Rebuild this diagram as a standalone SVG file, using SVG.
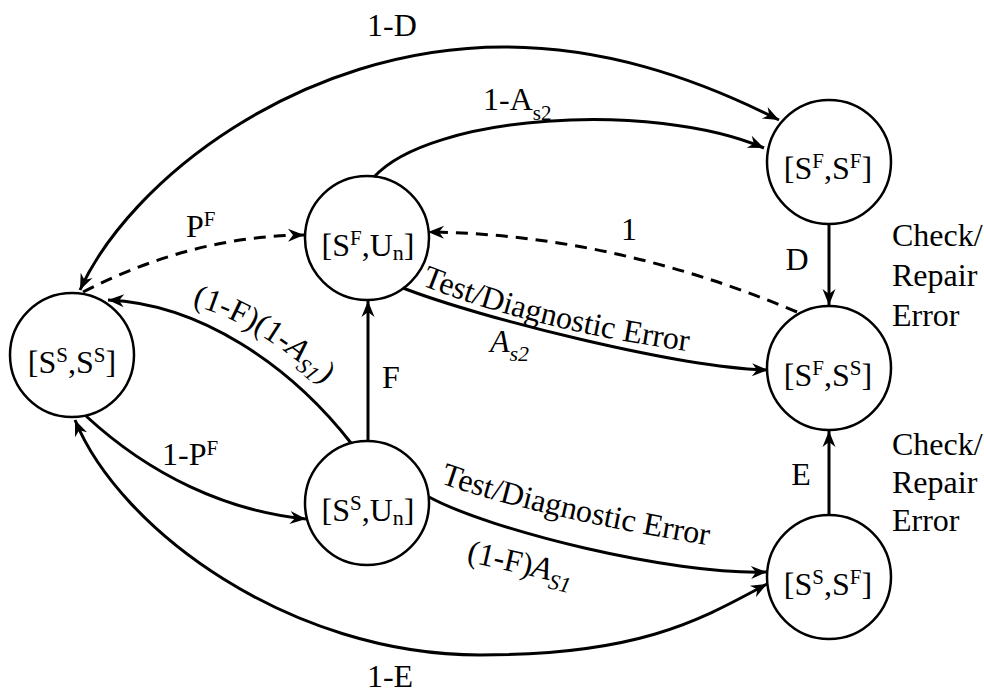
<svg xmlns="http://www.w3.org/2000/svg" width="984" height="695" viewBox="0 0 984 695" font-family="'Liberation Serif', 'Times New Roman', serif">
  <style>
    text { font-family: "Liberation Serif", "Times New Roman", serif; font-size: 32px; fill: #000; }
    .state circle { fill: #fff; stroke: #000; stroke-width: 2.5; }
    .state text { text-anchor: middle; }
    .edge { fill: none; stroke: #000; stroke-width: 3; }
    .dash { stroke-dasharray: 12 8; }
    .sup { font-size: 21px; }
    .sub { font-size: 22px; }
    .it { font-style: italic; }
    .mid { text-anchor: middle; }
  </style>
  <defs>
    <marker id="arrow" viewBox="-17 -8 18 16" markerWidth="18" markerHeight="16" refX="0" refY="0" orient="auto-start-reverse" markerUnits="userSpaceOnUse">
      <path d="M0,0 L-16,-6.5 L-11,0 L-16,6.5 Z" fill="#000"/>
    </marker>
    <!-- baselines for the labels that follow curved edges -->
    <path id="tde-upper" d="M421,285 Q540,332 702,353"/>
    <path id="tde-lower" d="M440,483 Q540,518 730,549"/>
    <path id="f-as1" d="M192,305 Q263,325 331,391"/>
  </defs>

  <!-- states -->
  <g id="s-ss-ss" class="state">
    <circle cx="72" cy="355" r="62"/>
    <text x="72" y="373">[S<tspan class="sup" dy="-11">S</tspan><tspan dy="11">,S</tspan><tspan class="sup" dy="-11">S</tspan><tspan dy="11">]</tspan></text>
  </g>
  <g id="s-sf-un" class="state">
    <circle cx="367" cy="238" r="62"/>
    <text x="368" y="256">[S<tspan class="sup" dy="-11">F</tspan><tspan dy="11">,U</tspan><tspan class="sub" dy="4">n</tspan><tspan dy="-4">]</tspan></text>
  </g>
  <g id="s-ss-un" class="state">
    <circle cx="367" cy="503" r="62"/>
    <text x="368" y="521">[S<tspan class="sup" dy="-11">S</tspan><tspan dy="11">,U</tspan><tspan class="sub" dy="4">n</tspan><tspan dy="-4">]</tspan></text>
  </g>
  <g id="s-sf-sf" class="state">
    <circle cx="829" cy="162" r="62"/>
    <text x="828" y="179">[S<tspan class="sup" dy="-11">F</tspan><tspan dy="11">,S</tspan><tspan class="sup" dy="-11">F</tspan><tspan dy="11">]</tspan></text>
  </g>
  <g id="s-sf-ss" class="state">
    <circle cx="829" cy="368" r="62"/>
    <text x="828" y="386">[S<tspan class="sup" dy="-11">F</tspan><tspan dy="11">,S</tspan><tspan class="sup" dy="-11">S</tspan><tspan dy="11">]</tspan></text>
  </g>
  <g id="s-ss-sf" class="state">
    <circle cx="829" cy="577" r="62"/>
    <text x="828" y="595">[S<tspan class="sup" dy="-11">S</tspan><tspan dy="11">,S</tspan><tspan class="sup" dy="-11">F</tspan><tspan dy="11">]</tspan></text>
  </g>

  <!-- transitions -->
  <g id="edges">
    <path class="edge" d="M80,290 C130,180 300,47 504,47 C600,47 690,75 779,120" marker-start="url(#arrow)" marker-end="url(#arrow)"/>
    <path class="edge" d="M374,177 C430,115 650,100 764,148" marker-end="url(#arrow)"/>
    <path class="edge dash" d="M83,292 Q192,236 304,235" marker-end="url(#arrow)"/>
    <path class="edge dash" d="M797,312 Q612,234 428,232" marker-end="url(#arrow)"/>
    <path class="edge" d="M351,443 C290,365 200,304 108,300" marker-end="url(#arrow)"/>
    <path class="edge" d="M86,416 C150,475 226,511 306,519" marker-end="url(#arrow)"/>
    <path class="edge" d="M368,441 L368,301" marker-end="url(#arrow)"/>
    <path class="edge" d="M403,288 C480,318 680,368 768,370" marker-end="url(#arrow)"/>
    <path class="edge" d="M429,497 C490,530 670,575 767,572" marker-end="url(#arrow)"/>
    <path class="edge" d="M75,420 C120,530 290,655 480,655 C640,655 700,620 767,584" marker-start="url(#arrow)" marker-end="url(#arrow)"/>
    <path class="edge" d="M829,224 L829,305" marker-end="url(#arrow)"/>
    <path class="edge" d="M829,515 L829,431" marker-end="url(#arrow)"/>
  </g>

  <!-- transition labels -->
  <g id="labels">
    <text class="mid" x="392" y="36">1-D</text>
    <text x="483" y="110">1-A<tspan class="sup" dy="10">s2</tspan></text>
    <text x="186" y="237">P<tspan class="sup" dy="-11">F</tspan></text>
    <text class="mid" x="629" y="240">1</text>
    <text class="mid" x="797" y="270">D</text>
    <text x="892" y="246">Check/</text>
    <text x="892" y="286">Repair</text>
    <text x="892" y="326">Error</text>
    <text x="382" y="388">F</text>
    <text x="162" y="465">1-P<tspan class="sup" dy="-10">F</tspan></text>
    <text class="mid" x="801" y="485">E</text>
    <text x="892" y="455">Check/</text>
    <text x="892" y="493">Repair</text>
    <text x="892" y="531">Error</text>
    <text class="mid" x="390" y="687">1-E</text>
    <text><textPath href="#tde-upper">Test/Diagnostic Error</textPath></text>
    <text><textPath href="#tde-lower">Test/Diagnostic Error</textPath></text>
    <text x="490" y="352"><tspan class="it">A</tspan><tspan class="sub it" dy="9">s2</tspan></text>
    <text><textPath href="#f-as1">(1-F)(1-<tspan class="it">A</tspan><tspan class="sub it" dy="7">S1</tspan><tspan dy="-7">)</tspan></textPath></text>
    <text transform="translate(466,561) rotate(13)">(1-F)<tspan class="it">A</tspan><tspan class="sub it" dy="8">S1</tspan></text>
  </g>
</svg>
